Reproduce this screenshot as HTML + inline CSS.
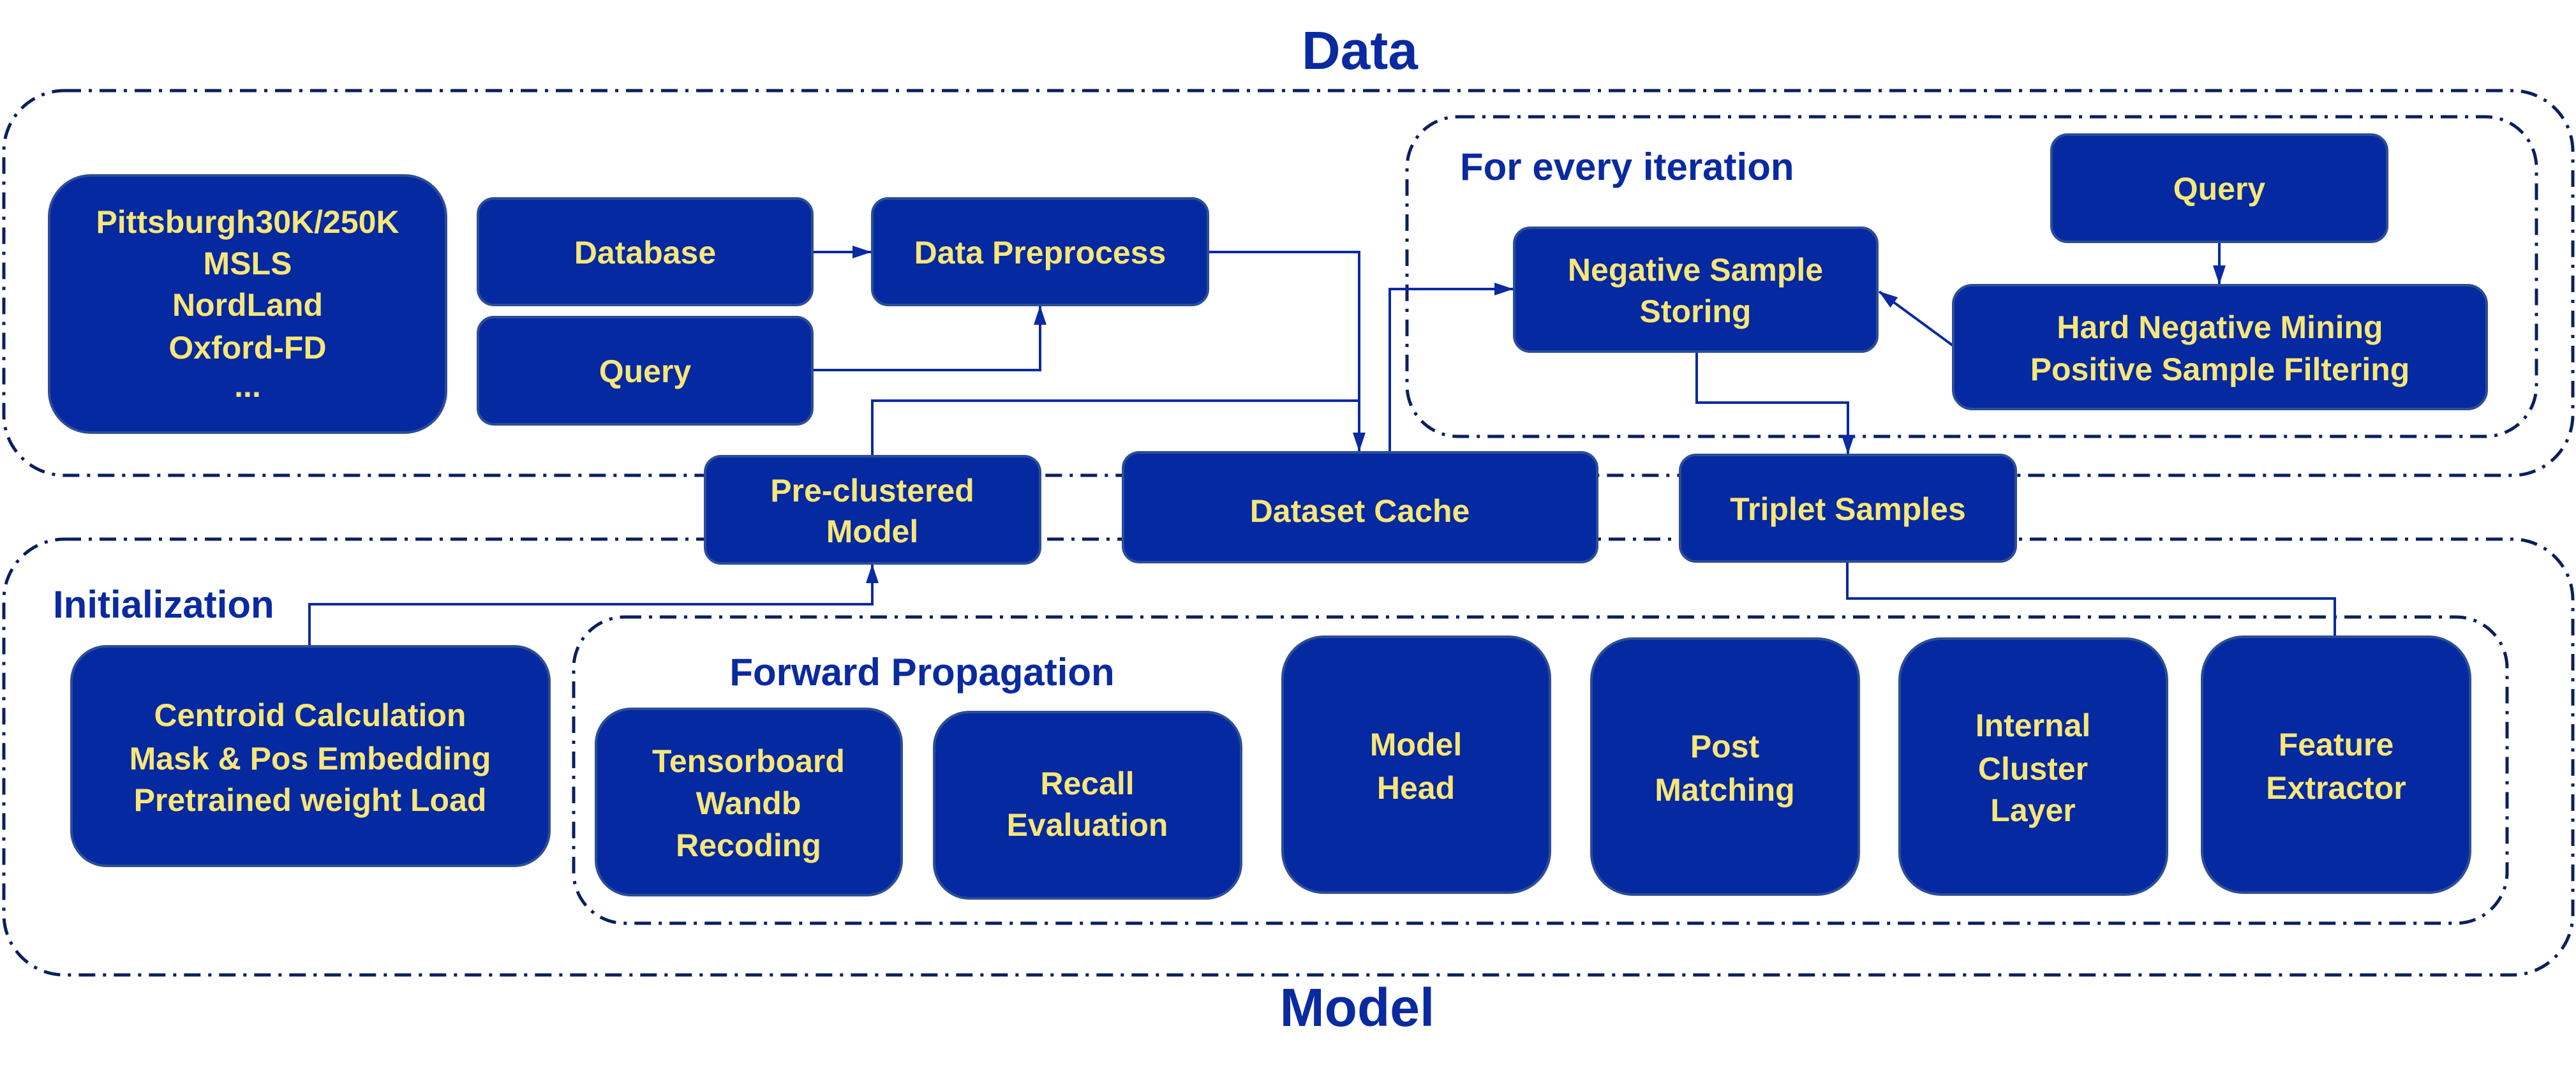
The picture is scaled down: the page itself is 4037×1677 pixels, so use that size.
<!DOCTYPE html>
<html><head><meta charset="utf-8"><style>
html,body{margin:0;padding:0;background:#fff;}
svg{display:block;}
.b{fill:#0429a0;stroke:#2d4e95;stroke-width:4;}
.t{fill:#f7e679;font-family:"Liberation Sans",Arial,sans-serif;font-weight:bold;font-size:50px;text-anchor:middle;}
.h{fill:#0a2aa0;font-family:"Liberation Sans",Arial,sans-serif;font-weight:bold;}
.d{fill:none;stroke:#0b1f5c;stroke-width:5;stroke-dasharray:26 12 5 12;}
.l{fill:none;stroke:#0a2aa0;stroke-width:4;}
</style></head><body>
<svg width="4037" height="1677" viewBox="0 0 4037 1677" xmlns="http://www.w3.org/2000/svg">
<defs>
<marker id="m" viewBox="0 0 30 20" refX="29" refY="10" markerWidth="30" markerHeight="20" orient="auto" markerUnits="userSpaceOnUse"><path d="M0,0 L30,10 L0,20 z" fill="#0a2aa0"/></marker></defs>

<text class="h" x="2131" y="108" font-size="84" text-anchor="middle">Data</text>
<text class="h" x="2127" y="1608" font-size="84" text-anchor="middle">Model</text>

<rect class="d" x="6" y="142" width="4026" height="603" rx="95" ry="95"/>
<rect class="d" x="6" y="845" width="4026" height="683" rx="95" ry="95"/>
<rect class="d" x="2205" y="183" width="1770" height="501" rx="80" ry="80"/>
<rect class="d" x="899" y="967" width="3030" height="480" rx="80" ry="80"/>

<text class="h" x="2288" y="282" font-size="60">For every iteration</text>
<text class="h" x="83" y="968" font-size="60">Initialization</text>
<text class="h" x="1445" y="1074" font-size="60" text-anchor="middle">Forward Propagation</text>

<path class="l" d="M1273,395 L1365,395" marker-end="url(#m)"/>
<path class="l" d="M1273,580 L1630,580 L1630,480" marker-end="url(#m)"/>
<path class="l" d="M1893,395 L2130,395 L2130,707" marker-end="url(#m)"/>
<path class="l" d="M1367,715 L1367,628 L2130,628"/>
<path class="l" d="M2178,709 L2178,453 L2371,453" marker-end="url(#m)"/>
<path class="l" d="M3478,379 L3478,445" marker-end="url(#m)"/>
<path class="l" d="M3061,542 L2945,457" marker-end="url(#m)"/>
<path class="l" d="M2659,551 L2659,631 L2896,631 L2896,711" marker-end="url(#m)"/>
<path class="l" d="M2895,880 L2895,938 L3659,938 L3659,999"/>
<path class="l" d="M485,1013 L485,947 L1367,947 L1367,885" marker-end="url(#m)"/>

<rect class="b" x="77" y="275" width="622" height="403" rx="65" ry="65"/>
<text class="t" x="388" y="365">Pittsburgh30K/250K</text>
<text class="t" x="388" y="430">MSLS</text>
<text class="t" x="388" y="495">NordLand</text>
<text class="t" x="388" y="562">Oxford-FD</text>
<text class="t" x="388" y="622">...</text>

<rect class="b" x="749" y="311" width="524" height="167" rx="25" ry="25"/>
<text class="t" x="1011" y="413">Database</text>
<rect class="b" x="749" y="497" width="524" height="168" rx="25" ry="25"/>
<text class="t" x="1011" y="599">Query</text>
<rect class="b" x="1367" y="311" width="526" height="167" rx="25" ry="25"/>
<text class="t" x="1630" y="413">Data Preprocess</text>

<rect class="b" x="1105" y="715" width="525" height="168" rx="25" ry="25"/>
<text class="t" x="1367" y="786">Pre-clustered</text>
<text class="t" x="1367" y="850">Model</text>
<rect class="b" x="1760" y="709" width="743" height="172" rx="25" ry="25"/>
<text class="t" x="2131" y="818" font-size="64">Dataset Cache</text>
<rect class="b" x="2633" y="713" width="526" height="167" rx="25" ry="25"/>
<text class="t" x="2896" y="815">Triplet Samples</text>

<rect class="b" x="3215" y="211" width="526" height="168" rx="25" ry="25"/>
<text class="t" x="3478" y="313">Query</text>
<rect class="b" x="2373" y="357" width="569" height="194" rx="25" ry="25"/>
<text class="t" x="2657" y="440">Negative Sample</text>
<text class="t" x="2657" y="505">Storing</text>
<rect class="b" x="3061" y="447" width="836" height="194" rx="30" ry="30"/>
<text class="t" x="3479" y="530">Hard Negative Mining</text>
<text class="t" x="3479" y="596">Positive Sample Filtering</text>

<rect class="b" x="112" y="1013" width="749" height="344" rx="55" ry="55"/>
<text class="t" x="486" y="1138">Centroid Calculation</text>
<text class="t" x="486" y="1206">Mask &amp; Pos Embedding</text>
<text class="t" x="486" y="1271">Pretrained weight Load</text>

<rect class="b" x="934" y="1111" width="479" height="292" rx="55" ry="55"/>
<text class="t" x="1173" y="1210">Tensorboard</text>
<text class="t" x="1173" y="1276">Wandb</text>
<text class="t" x="1173" y="1342">Recoding</text>
<rect class="b" x="1464" y="1116" width="481" height="292" rx="55" ry="55"/>
<text class="t" x="1704" y="1245">Recall</text>
<text class="t" x="1704" y="1310">Evaluation</text>

<rect class="b" x="2010" y="998" width="419" height="401" rx="65" ry="65"/>
<text class="t" x="2219" y="1184">Model</text>
<text class="t" x="2219" y="1252">Head</text>
<rect class="b" x="2494" y="1001" width="419" height="401" rx="65" ry="65"/>
<text class="t" x="2703" y="1187">Post</text>
<text class="t" x="2703" y="1255">Matching</text>
<rect class="b" x="2977" y="1001" width="419" height="401" rx="65" ry="65"/>
<text class="t" x="3186" y="1154">Internal</text>
<text class="t" x="3186" y="1222">Cluster</text>
<text class="t" x="3186" y="1287">Layer</text>
<rect class="b" x="3451" y="998" width="420" height="401" rx="65" ry="65"/>
<text class="t" x="3661" y="1184">Feature</text>
<text class="t" x="3661" y="1252">Extractor</text>
</svg>
</body></html>
